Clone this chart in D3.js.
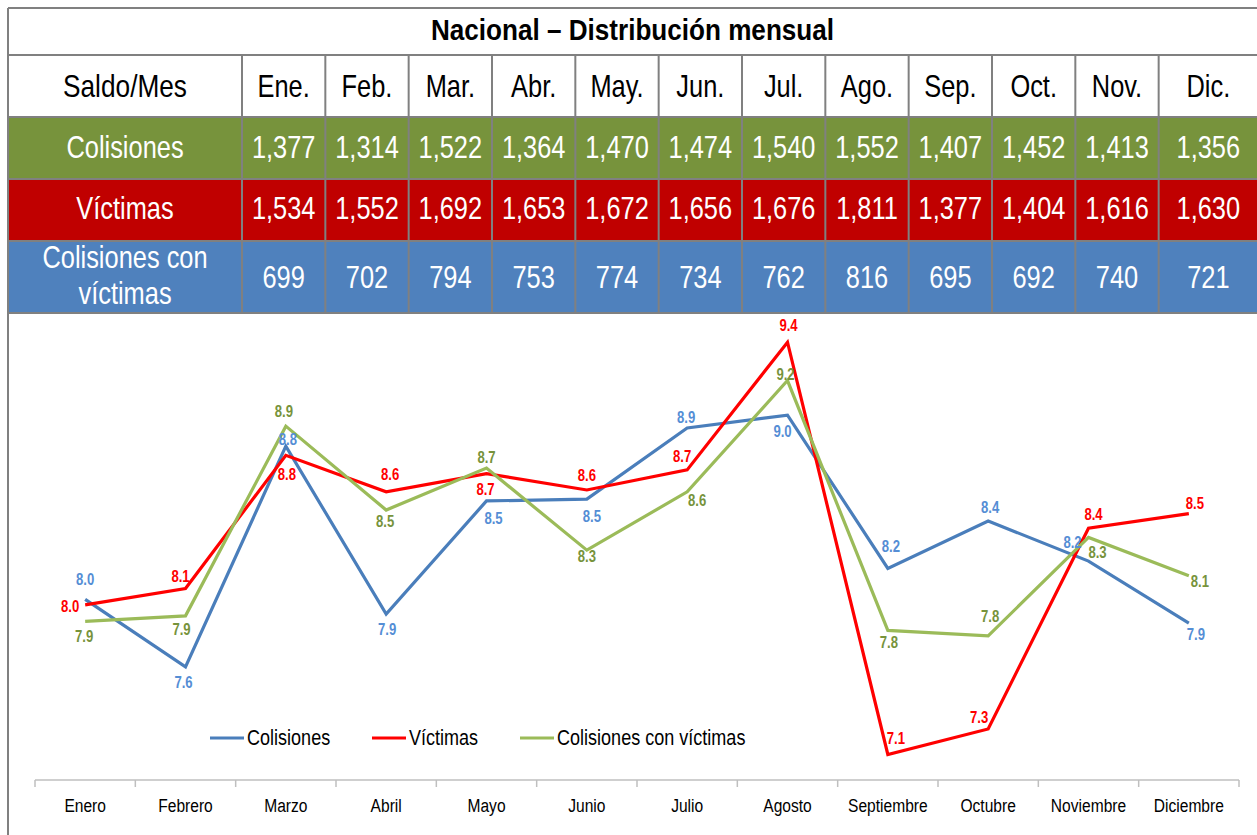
<!DOCTYPE html>
<html>
<head>
<meta charset="utf-8">
<script src="https://cdn.jsdelivr.net/npm/d3@7"></script>
<style>
  body { margin: 0; background: #fff; }
  svg { display: block; }
  text { font-family: "Liberation Sans", Arial, sans-serif; }
</style>
</head>
<body>
<svg id="chart"></svg>
<script>
// table data
const monthsShort = ["Ene.", "Feb.", "Mar.", "Abr.", "May.", "Jun.", "Jul.", "Ago.", "Sep.", "Oct.", "Nov.", "Dic."];
const colisiones = [1377, 1314, 1522, 1364, 1470, 1474, 1540, 1552, 1407, 1452, 1413, 1356];
const victimas = [1534, 1552, 1692, 1653, 1672, 1656, 1676, 1811, 1377, 1404, 1616, 1630];
const conVictimas = [699, 702, 794, 753, 774, 734, 762, 816, 695, 692, 740, 721];

// chart data (monthly share, %)
const months = ["Enero", "Febrero", "Marzo", "Abril", "Mayo", "Junio", "Julio", "Agosto", "Septiembre", "Octubre", "Noviembre", "Diciembre"];
const colisionesPct = [7.99, 7.62, 8.83, 7.91, 8.53, 8.54, 8.93, 9.00, 8.16, 8.42, 8.20, 7.86];
const victimasPct = [7.96, 8.05, 8.78, 8.58, 8.68, 8.59, 8.70, 9.40, 7.14, 7.28, 8.38, 8.46];
const conVictimasPct = [7.87, 7.90, 8.94, 8.48, 8.71, 8.26, 8.58, 9.19, 7.82, 7.79, 8.33, 8.12];

// label nudges [dx, dy] so they sit like the original
const offColisiones = [[0,-14],[-2,21],[2,-1],[1,21],[7,23],[5,23],[-1,-5],[-5,22],[3,-16],[2,-8],[-16,-13],[7,17]];
const offVictimas = [[-15,7],[-5,-6],[1,25],[4,-12],[-1,21],[0,-9],[-5,-8],[1,-11],[8,-10],[-9,-6],[5,-8],[6,-5]];
const offConVictimas = [[-1,21],[-4,19],[-2,-9],[-1,17],[0,-5],[0,12],[10,14],[-2,-1],[1,18],[2,-14],[9,21],[11,11]];

const W = 1257, H = 835;
const GRID = "#808080";
const NARROW = 0.82; // Arial squeezed to look like Arial Narrow
const svg = d3.select("#chart").attr("width", W).attr("height", H);
svg.append("rect").attr("width", W).attr("height", H).attr("fill", "#fff");

// text helper: position via transform so the glyphs can be squeezed
function place(sel, fx, fy) {
  return sel.attr("transform", (d, i) => `translate(${fx(d, i)},${fy(d, i)}) scale(${NARROW},1)`);
}
function label(parent, x, y, str, size, opts = {}) {
  return parent.append("text")
    .attr("transform", `translate(${x},${y}) scale(${opts.sx || NARROW},1)`)
    .attr("text-anchor", opts.anchor || "middle")
    .style("font-size", size + "px")
    .style("font-weight", opts.weight || "400")
    .attr("fill", opts.fill || "#000")
    .text(str);
}

// ---- table ----
const left = 8, firstColR = 242;
const rowY = [8, 55, 117, 179, 241, 313];
const col = d3.scaleBand().domain(monthsShort).range([firstColR, 1242]);
const cellR = (m, i) => i === monthsShort.length - 1 ? W + 1 : col(m) + col.bandwidth();
const cx = (m, i) => (col(m) + cellR(m, i)) / 2;

const rows = [
  { label: ["Colisiones"], values: colisiones, fill: "#77933c" },
  { label: ["Víctimas"], values: victimas, fill: "#c00000" },
  { label: ["Colisiones con", "víctimas"], values: conVictimas, fill: "#4f81bd" }
];

const tbl = svg.append("g");
rows.forEach((r, k) => {
  const y0 = rowY[k + 2], y1 = rowY[k + 3];
  tbl.append("rect").attr("x", left).attr("y", y0).attr("width", W - left).attr("height", y1 - y0).attr("fill", r.fill);
});

rowY.forEach(y => {
  tbl.append("line").attr("x1", left).attr("x2", W).attr("y1", y).attr("y2", y)
    .attr("stroke", GRID).attr("stroke-width", 2);
});
[firstColR].concat(monthsShort.slice(1).map(m => col(m))).forEach(x => {
  tbl.append("line").attr("x1", x).attr("x2", x).attr("y1", rowY[1]).attr("y2", rowY[5])
    .attr("stroke", GRID).attr("stroke-width", 2);
});

// title
label(tbl, (left + W) / 2, 40, "Nacional – Distribución mensual", 29, { weight: "700", sx: 0.9 });

// header
const firstCx = (left + firstColR) / 2;
label(tbl, firstCx, 97, "Saldo/Mes", 32);
place(tbl.selectAll(".hd").data(monthsShort).enter().append("text"), (d, i) => cx(d, i), () => 97)
  .attr("text-anchor", "middle").style("font-size", "31px").attr("fill", "#000").text(d => d);

// rows
const fmt = d3.format(",");
const baseY = [158, 219, 288];
rows.forEach((r, k) => {
  if (r.label.length === 1) {
    label(tbl, firstCx, baseY[k], r.label[0], 31, { fill: "#fff" });
  } else {
    r.label.forEach((t, j) => label(tbl, firstCx, 268 + j * 36, t, 31, { fill: "#fff" }));
  }
  place(tbl.selectAll(null).data(r.values).enter().append("text"), (d, i) => cx(monthsShort[i], i), () => baseY[k])
    .attr("text-anchor", "middle").style("font-size", "31px").attr("fill", "#fff").text(d => fmt(d));
});

// ---- chart ----
svg.append("rect").attr("x", 25).attr("y", 314).attr("width", 1215).attr("height", H - 314).attr("fill", "#fff");
svg.append("line").attr("x1", left).attr("x2", left).attr("y1", 8).attr("y2", H)
  .attr("stroke", GRID).attr("stroke-width", 2);

const x = d3.scaleBand().domain(months).range([35, 1239]);
const y = d3.scaleLinear().domain([7, 9.5]).range([780, 324]);
const px = m => x(m) + x.bandwidth() / 2;

// x axis
const ax = svg.append("g").attr("transform", "translate(0,780)");
ax.append("line").attr("x1", 35).attr("x2", 1239).attr("stroke", "#bfbfbf").attr("stroke-width", 1.5);
d3.range(months.length + 1).forEach(i => {
  const tx = 35 + i * x.step();
  ax.append("line").attr("x1", tx).attr("x2", tx).attr("y1", 0).attr("y2", 7)
    .attr("stroke", "#bfbfbf").attr("stroke-width", 1.5);
});
place(ax.selectAll(".lbl").data(months).enter().append("text"), d => px(d), () => 32)
  .attr("text-anchor", "middle").style("font-size", "19px").attr("fill", "#000").text(d => d);

const series = [
  { name: "Colisiones", values: colisionesPct, off: offColisiones, line: "#4a7ebb", label: "#558ed5" },
  { name: "Víctimas", values: victimasPct, off: offVictimas, line: "#ff0000", label: "#ff0000" },
  { name: "Colisiones con víctimas", values: conVictimasPct, off: offConVictimas, line: "#9bbb59", label: "#77933c" }
];

const lineGen = d3.line().x((d, i) => px(months[i])).y(d => y(d));
series.forEach(s => {
  svg.append("path").datum(s.values).attr("d", lineGen)
    .attr("fill", "none").attr("stroke", s.line).attr("stroke-width", 3.2)
    .attr("stroke-linejoin", "miter");
});
series.forEach(s => {
  place(svg.selectAll(null).data(s.values).enter().append("text"),
      (d, i) => px(months[i]) + s.off[i][0], (d, i) => y(d) + s.off[i][1])
    .attr("text-anchor", "middle")
    .style("font-size", "16px").style("font-weight", "700").attr("fill", s.label)
    .text(d => d.toFixed(1));
});

// legend
const legX = [210, 372, 520];
const leg = svg.append("g");
series.forEach((s, i) => {
  leg.append("line").attr("x1", legX[i]).attr("x2", legX[i] + 34).attr("y1", 738).attr("y2", 738)
    .attr("stroke", s.line).attr("stroke-width", 3.2);
  label(leg, legX[i] + 37, 745, s.name, 22, { anchor: "start" });
});
</script>
</body>
</html>
